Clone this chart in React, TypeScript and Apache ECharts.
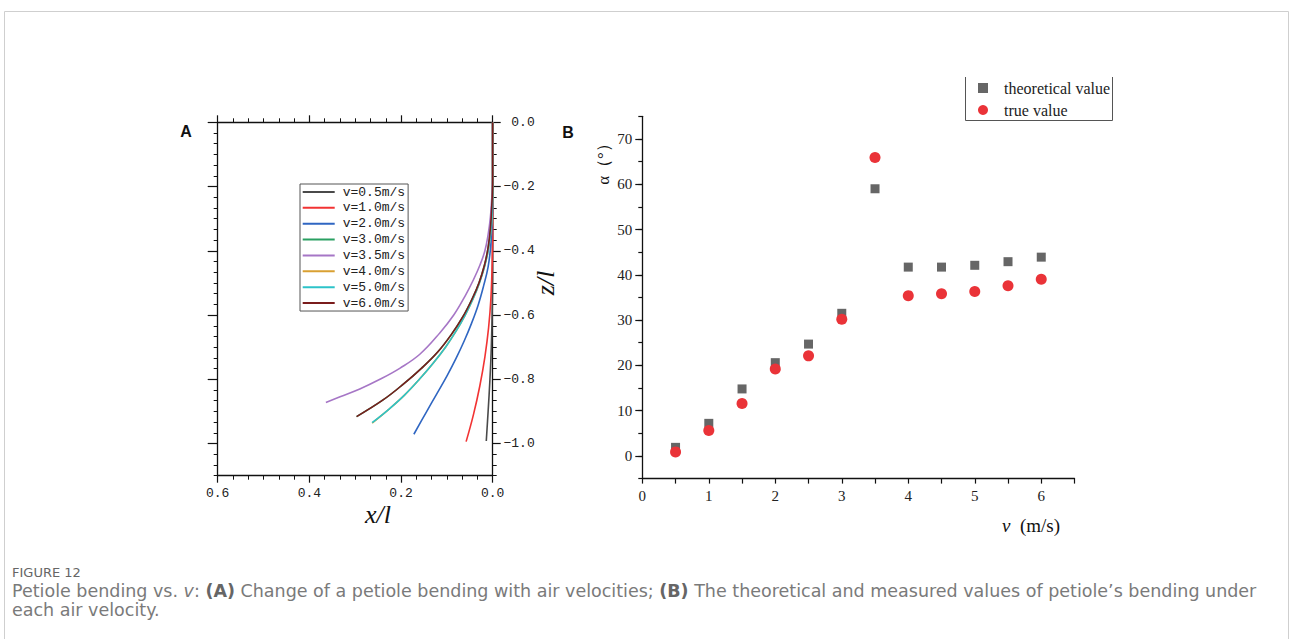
import React, { useEffect, useRef } from "react";
import * as echarts from "echarts";

// ---------- Panel A data: petiole shape (x/l, z/l) for each air velocity ----------
const curveNames = ["v=0.5m/s", "v=1.0m/s", "v=2.0m/s", "v=3.0m/s", "v=3.5m/s", "v=4.0m/s", "v=5.0m/s", "v=6.0m/s"];
const curveColors = ["#4a4a4a", "#f23333", "#2f66c2", "#2aa062", "#a676c6", "#d9a032", "#2cc3c9", "#7a1c1c"];

const curve05 = [[0, 0], [0, -0.45], [0.001, -0.58], [0.003, -0.7], [0.006, -0.8], [0.01, -0.9], [0.014, -0.992]];
const curve10 = [[0, 0], [0, -0.3], [0.001, -0.43], [0.004, -0.55], [0.009, -0.64], [0.017, -0.73], [0.028, -0.82], [0.042, -0.91], [0.058, -0.994]];
const curve20 = [[0, 0], [0, -0.22], [0.001, -0.3], [0.004, -0.38], [0.01, -0.45], [0.02, -0.51], [0.032, -0.57], [0.046, -0.625], [0.062, -0.68], [0.08, -0.735], [0.1, -0.79], [0.122, -0.845], [0.146, -0.905], [0.172, -0.971]];
const curve30 = [[0, 0], [0, -0.18], [0.002, -0.26], [0.005, -0.33], [0.01, -0.39], [0.018, -0.445], [0.03, -0.5], [0.045, -0.55], [0.065, -0.605], [0.09, -0.66], [0.12, -0.715], [0.155, -0.765], [0.195, -0.815], [0.24, -0.865], [0.297, -0.916]];
const curve35 = [[0, 0], [0, -0.17], [0.002, -0.235], [0.005, -0.295], [0.01, -0.35], [0.017, -0.4], [0.028, -0.445], [0.042, -0.49], [0.06, -0.54], [0.085, -0.6], [0.115, -0.655], [0.159, -0.722], [0.202, -0.765], [0.246, -0.8], [0.29, -0.83], [0.333, -0.854], [0.364, -0.872]];
const curve40 = [[0, 0], [0, -0.2], [0.001, -0.28], [0.004, -0.34], [0.01, -0.4], [0.018, -0.45], [0.029, -0.5], [0.043, -0.55], [0.06, -0.6], [0.08, -0.65], [0.103, -0.7], [0.13, -0.75], [0.16, -0.8], [0.193, -0.85], [0.228, -0.895], [0.263, -0.936]];
const curve50 = [[0, 0], [0, -0.2], [0.001, -0.28], [0.004, -0.34], [0.01, -0.4], [0.018, -0.45], [0.029, -0.5], [0.043, -0.55], [0.06, -0.6], [0.08, -0.65], [0.103, -0.7], [0.13, -0.75], [0.16, -0.8], [0.193, -0.85], [0.228, -0.895], [0.263, -0.935]];
const curve60 = [[0, 0], [0, -0.18], [0.002, -0.26], [0.005, -0.33], [0.01, -0.39], [0.018, -0.445], [0.03, -0.5], [0.045, -0.55], [0.065, -0.605], [0.09, -0.66], [0.12, -0.715], [0.155, -0.765], [0.195, -0.815], [0.24, -0.865], [0.297, -0.916]];
const curves = [curve05, curve10, curve20, curve30, curve35, curve40, curve50, curve60];

const aXMajorTicks = [0, 0.2, 0.4, 0.6];
const aZMajorTicks = [0, -0.2, -0.4, -0.6, -0.8, -1.0];

// ---------- Panel B data ----------
const speeds = [0.5, 1, 1.5, 2, 2.5, 3, 3.5, 4, 4.5, 5, 5.5, 6];
const theoretical = [1.9, 7.2, 14.8, 20.6, 24.7, 31.5, 59.0, 41.7, 41.7, 42.1, 42.9, 43.9];
const measured = [0.9, 5.6, 11.6, 19.2, 22.1, 30.2, 65.9, 35.4, 35.8, 36.3, 37.6, 39.0];
const bNames = ["theoretical value", "true value"];
const bYMajorTicks = [0, 10, 20, 30, 40, 50, 60, 70];

const MONO = '"Liberation Mono", "DejaVu Sans Mono", monospace';
const SERIF = '"Liberation Serif", "Times New Roman", serif';
const SANS = '"Liberation Sans", Arial, sans-serif';
const CAP = '"DejaVu Sans", "Noto Sans", sans-serif';
const AX = "#111";

const isMult = (v: number, step: number) => Math.abs(v / step - Math.round(v / step)) < 1e-6;

function buildOption() {
  const tickStyle = { color: AX, width: 1.2 };
  const xA = (pos: string, showLabel: boolean) => ({
    gridIndex: 0,
    type: "value",
    position: pos,
    min: 0,
    max: 0.6,
    interval: 0.2,
    inverse: true,
    axisLine: { onZero: false, lineStyle: { color: AX, width: 1.3 } },
    axisTick: { length: 7, lineStyle: tickStyle },
    minorTick: { show: true, splitNumber: 6, length: 4, lineStyle: { color: AX, width: 1 } },
    axisLabel: {
      show: showLabel,
      fontFamily: MONO,
      fontSize: 13,
      color: "#222",
      margin: 11,
      formatter: (v: number) => (aXMajorTicks.some((t) => Math.abs(t - v) < 1e-6) ? v.toFixed(1) : ""),
    },
    splitLine: { show: false },
  });
  const yABase = (pos: string, showLabel: boolean) => ({
    gridIndex: 0,
    type: "value",
    position: pos,
    min: -1.1,
    max: 0,
    interval: 1 / 30,
    axisLine: { onZero: false, lineStyle: { color: AX, width: 1.3 } },
    axisTick: { length: 4, lineStyle: { color: AX, width: 1 } },
    axisLabel: {
      show: showLabel,
      fontFamily: MONO,
      fontSize: 13,
      color: "#222",
      align: "right",
      margin: 42,
      formatter: (v: number) => {
        if (!isMult(v, 0.2)) return "";
        const r = Math.round(v / 0.2) * 0.2;
        return (r < -1e-9 ? "\u2212" : "") + Math.abs(r).toFixed(1);
      },
    },
    splitLine: { show: false },
  });
  const yAMajor = (pos: string, len: number) => ({
    gridIndex: 0,
    type: "value",
    position: pos,
    min: -1.1,
    max: 0,
    axisLine: { show: false, onZero: false },
    axisTick: { show: true, length: len, customValues: aZMajorTicks, lineStyle: tickStyle },
    axisLabel: { show: false },
    splitLine: { show: false },
  });

  return {
    animation: false,
    backgroundColor: "#fff",
    grid: [
      { left: 217.7, top: 122.3, width: 275, height: 353.4 },
      { left: 642.3, top: 116.3, width: 432.2, height: 362.3 },
    ],
    xAxis: [
      xA("bottom", true),
      xA("top", false),
      {
        gridIndex: 1,
        type: "value",
        position: "bottom",
        min: 0,
        max: 6.5,
        interval: 0.5,
        axisLine: { onZero: false, lineStyle: { color: AX, width: 1.3 } },
        axisTick: { length: 5, lineStyle: tickStyle },
        axisLabel: {
          fontFamily: SERIF,
          fontSize: 15,
          color: "#222",
          margin: 10,
          formatter: (v: number) => (isMult(v, 1) ? String(Math.round(v)) : ""),
        },
        splitLine: { show: false },
      },
    ],
    yAxis: [
      yABase("right", true),
      yAMajor("right", 8),
      yABase("left", false),
      yAMajor("left", 10),
      {
        gridIndex: 1,
        type: "value",
        position: "left",
        min: -5,
        max: 75,
        interval: 5,
        axisLine: { onZero: false, lineStyle: { color: AX, width: 1.3 } },
        axisTick: { length: 4, lineStyle: tickStyle },
        axisLabel: {
          fontFamily: SERIF,
          fontSize: 15,
          color: "#222",
          margin: 10,
          formatter: (v: number) => (v >= 0 && isMult(v, 10) ? String(Math.round(v)) : ""),
        },
        splitLine: { show: false },
      },
      {
        gridIndex: 1,
        type: "value",
        position: "left",
        min: -5,
        max: 75,
        axisLine: { show: false, onZero: false },
        axisTick: { show: true, length: 7, customValues: bYMajorTicks, lineStyle: tickStyle },
        axisLabel: { show: false },
        splitLine: { show: false },
      },
    ],
    legend: [
      {
        data: curveNames,
        orient: "vertical",
        left: 300,
        top: 184,
        padding: [1, 3, 1, 2.7],
        itemWidth: 32,
        itemHeight: 2,
        itemGap: 1.86,
        icon: "rect",
        borderColor: "#555",
        borderWidth: 1,
        backgroundColor: "#fff",
        selectedMode: false,
        textStyle: { fontFamily: MONO, fontSize: 13, lineHeight: 14, color: "#222", padding: [0, 0, 0, 3] },
      },
      {
        data: bNames,
        orient: "vertical",
        left: 978,
        top: 80,
        padding: 0,
        itemWidth: 10,
        itemHeight: 10,
        itemGap: 6,
        selectedMode: false,
        textStyle: { fontFamily: SERIF, fontSize: 16, lineHeight: 16, color: "#222", padding: [0, 0, 0, 11] },
      },
    ],
    series: [
      ...curves.map((c, i) => ({
        type: "line",
        name: curveNames[i],
        xAxisIndex: 0,
        yAxisIndex: 0,
        data: c,
        symbol: "none",
        showSymbol: false,
        smooth: 0.4,
        clip: false,
        lineStyle: { width: 1.6, color: curveColors[i] },
        itemStyle: { color: curveColors[i] },
        z: 3,
      })),
      {
        type: "scatter",
        name: bNames[0],
        xAxisIndex: 2,
        yAxisIndex: 4,
        symbol: "rect",
        symbolSize: 9,
        itemStyle: { color: "#666666", opacity: 1 },
        data: speeds.map((s, i) => [s, theoretical[i]]),
        z: 3,
      },
      {
        type: "scatter",
        name: bNames[1],
        xAxisIndex: 2,
        yAxisIndex: 4,
        symbol: "circle",
        symbolSize: 11,
        itemStyle: { color: "#ea3338", opacity: 1 },
        data: speeds.map((s, i) => [s, measured[i]]),
        z: 4,
      },
    ],
    graphic: [
      {
        type: "rect",
        z: -10,
        silent: true,
        shape: { x: 4.5, y: 11.5, width: 1284, height: 700 },
        style: { fill: "none", stroke: "#cfcfcf", lineWidth: 1 },
      },
      {
        type: "polyline",
        silent: true,
        shape: { points: [[965.5, 77], [965.5, 120.5], [1112.5, 120.5], [1112.5, 77]] },
        style: { fill: "none", stroke: "#555", lineWidth: 1 },
      },
      {
        type: "text",
        x: 186,
        y: 131,
        style: { text: "A", fontFamily: SANS, fontWeight: "bold", fontSize: 16, fill: "#111", align: "center", verticalAlign: "middle" },
      },
      {
        type: "text",
        x: 568,
        y: 132,
        style: { text: "B", fontFamily: SANS, fontWeight: "bold", fontSize: 16, fill: "#111", align: "center", verticalAlign: "middle" },
      },
      {
        type: "text",
        x: 378,
        y: 514,
        style: { text: "x/l", fontFamily: SERIF, fontStyle: "italic", fontSize: 26, fill: "#111", align: "center", verticalAlign: "middle" },
      },
      {
        type: "text",
        x: 545,
        y: 283,
        rotation: Math.PI / 2,
        style: { text: "z/l", fontFamily: SERIF, fontStyle: "italic", fontSize: 26, fill: "#111", align: "center", verticalAlign: "middle" },
      },
      {
        type: "text",
        x: 603,
        y: 160,
        rotation: Math.PI / 2,
        style: { text: "\u03b1\uff08\u00b0\uff09", fontFamily: SERIF, fontSize: 17, fill: "#111", align: "center", verticalAlign: "middle" },
      },
      {
        type: "text",
        x: 1002,
        y: 525,
        style: {
          text: "{i|v}  (m/s)",
          fontFamily: SERIF,
          fontSize: 19,
          fill: "#111",
          align: "left",
          verticalAlign: "middle",
          rich: { i: { fontFamily: SERIF, fontStyle: "italic", fontSize: 19, fill: "#111" } },
        },
      },
      {
        type: "text",
        x: 12,
        y: 572,
        style: { text: "FIGURE 12", fontFamily: CAP, fontSize: 13, fill: "#666", align: "left", verticalAlign: "middle" },
      },
      {
        type: "text",
        x: 12,
        y: 591,
        style: {
          text: "Petiole bending vs. {i|v}: {b|(A)} Change of a petiole bending with air velocities; {b|(B)} The theoretical and measured values of petiole\u2019s bending under",
          fontFamily: CAP,
          fontSize: 17.5,
          fill: "#7a7a7a",
          align: "left",
          verticalAlign: "middle",
          rich: {
            i: { fontFamily: CAP, fontSize: 17.5, fontStyle: "italic", fill: "#7a7a7a" },
            b: { fontFamily: CAP, fontSize: 17.5, fontWeight: "bold", fill: "#666" },
          },
        },
      },
      {
        type: "text",
        x: 12,
        y: 610,
        style: { text: "each air velocity.", fontFamily: CAP, fontSize: 17.5, fill: "#7a7a7a", align: "left", verticalAlign: "middle" },
      },
    ],
  };
}

export default function App() {
  const ref = useRef<HTMLDivElement>(null);
  useEffect(() => {
    document.body.style.margin = "0";
    if (!ref.current) return;
    const chart = echarts.init(ref.current, null, { renderer: "svg" });
    chart.setOption(buildOption() as any);
    return () => chart.dispose();
  }, []);
  return <div ref={ref} style={{ width: 1290, height: 639 }} />;
}
